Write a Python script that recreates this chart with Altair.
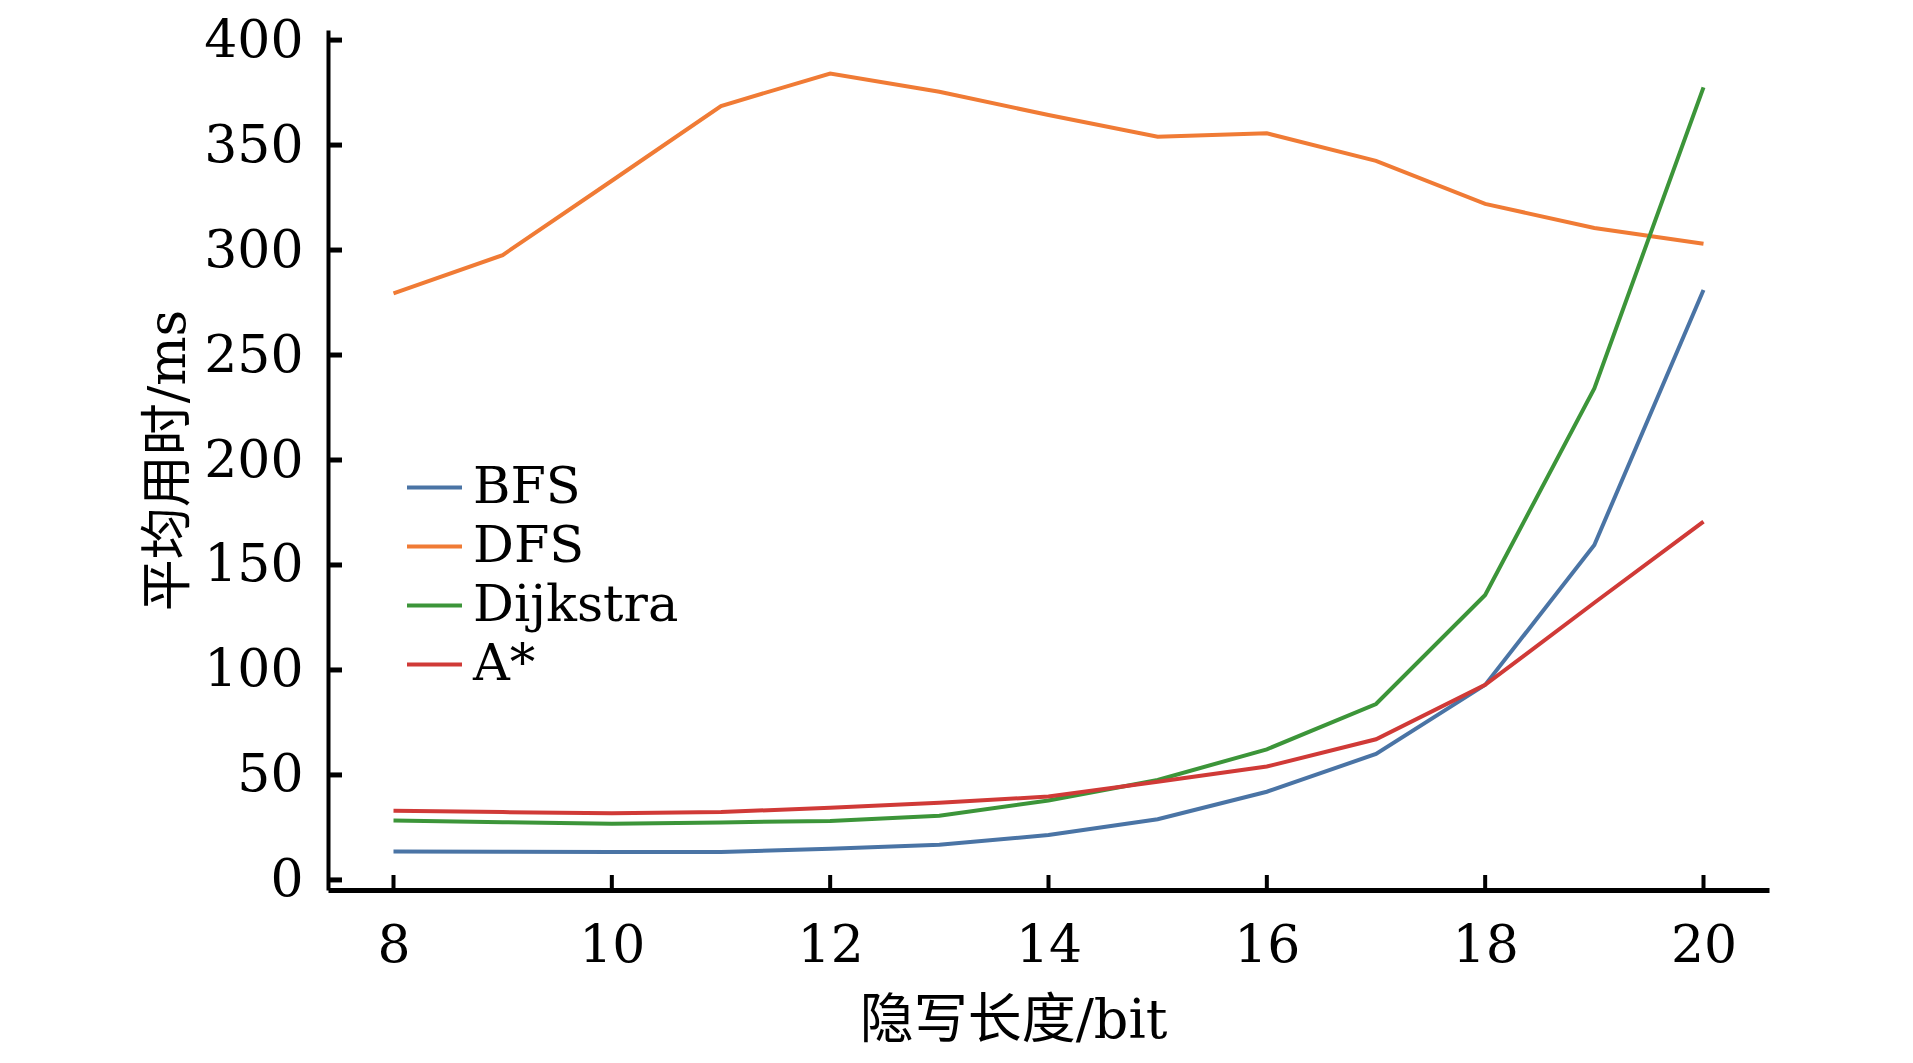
import altair as alt
import pandas as pd

# ---- data ----
lengths = [8, 9, 10, 11, 12, 13, 14, 15, 16, 17, 18, 19, 20]
bfs = [13.5, 13.4, 13.3, 13.3, 14.8, 16.7, 21.4, 28.9, 42.0, 60.0, 92.9, 159.5, 281.0]
dfs = [279.4, 297.6, 333.0, 368.6, 384.1, 375.4, 364.3, 354.0, 355.6, 342.5, 322.0, 310.5, 303.0]
dijkstra = [28.3, 27.5, 26.7, 27.4, 28.1, 30.6, 37.8, 47.6, 62.2, 83.8, 135.7, 234.1, 377.5]
astar = [33.0, 32.3, 31.7, 32.3, 34.4, 36.8, 39.7, 46.8, 54.0, 67.0, 92.9, 132.0, 170.6]

series_names = ["BFS", "DFS", "Dijkstra", "A*"]
series_colors = ["#4a74a5", "#f07b35", "#3c9539", "#d03a37"]

x_ticks = [8, 10, 12, 14, 16, 18, 20]
y_ticks = [0, 50, 100, 150, 200, 250, 300, 350, 400]

x_title = "隐写长度/bit"
y_title = "平均用时/ms"

rows = []
for name, vals in zip(series_names, [bfs, dfs, dijkstra, astar]):
    for xv, v in zip(lengths, vals):
        rows.append({"len": xv, "time": v, "alg": name})
df = pd.DataFrame(rows)

W, H = 1441, 860
FONT = "DejaVu Serif, Noto Sans CJK SC"

xscale = alt.Scale(domain=[7.4, 20.6], nice=False, zero=False)
yscale = alt.Scale(domain=[-4.8, 404.8], nice=False, zero=False)

x_axis = alt.Axis(
    values=x_ticks,
    title=x_title,
    ticks=False,
    grid=False,
    domain=True,
    domainWidth=5,
    domainColor="black",
    labelFont=FONT,
    labelFontSize=52,
    labelColor="black",
    labelPadding=30,
    titleFont=FONT,
    titleFontSize=54,
    titleFontWeight="normal",
    titleColor="black",
    titleX=685,
    titleY=131,
    titleBaseline="middle",
)

y_axis = alt.Axis(
    values=y_ticks,
    title=y_title,
    ticks=False,
    grid=False,
    domain=True,
    domainWidth=4,
    domainColor="black",
    labelFont=FONT,
    labelFontSize=52,
    labelColor="black",
    labelPadding=25,
    titleFont=FONT,
    titleFontSize=52,
    titleFontWeight="normal",
    titleColor="black",
    titleX=-160,
    titleY=430,
    titleBaseline="middle",
    titleAngle=270,
)

lines = alt.Chart(df).mark_line(strokeWidth=4).encode(
    x=alt.X("len:Q", scale=xscale, axis=x_axis),
    y=alt.Y("time:Q", scale=yscale, axis=y_axis),
    color=alt.Color(
        "alg:N",
        scale=alt.Scale(domain=series_names, range=series_colors),
        sort=series_names,
        legend=alt.Legend(
            title=None,
            orient="none",
            legendX=77,
            legendY=428,
            symbolType="stroke",
            symbolStrokeWidth=4,
            symbolSize=3025,
            symbolOpacity=1,
            labelFont=FONT,
            labelFontSize=51,
            labelColor="black",
            labelOffset=9,
            labelLimit=0,
            rowPadding=4,
            padding=0,
        ),
    ),
)

ytick_df = pd.DataFrame({"v": y_ticks})
xtick_df = pd.DataFrame({"v": x_ticks})

ytick_marks = alt.Chart(ytick_df).mark_rule(strokeWidth=5, color="black").encode(
    y=alt.Y("v:Q", scale=yscale, axis=y_axis),
    x=alt.value(0),
    x2=alt.value(14),
)

xtick_marks = alt.Chart(xtick_df).mark_rule(strokeWidth=4, color="black").encode(
    x=alt.X("v:Q", scale=xscale, axis=x_axis),
    y=alt.value(H - 15),
    y2=alt.value(H),
)

chart = (
    alt.layer(lines, ytick_marks, xtick_marks)
    .properties(
        width=W,
        height=H,
        autosize=alt.AutoSizeParams(type="none"),
        padding={"left": 320, "top": 22, "right": 136, "bottom": 165},
        background="white",
    )
    .configure_view(stroke=None)
)

chart.save("out.html", embed_options={"renderer": "svg", "actions": False})
